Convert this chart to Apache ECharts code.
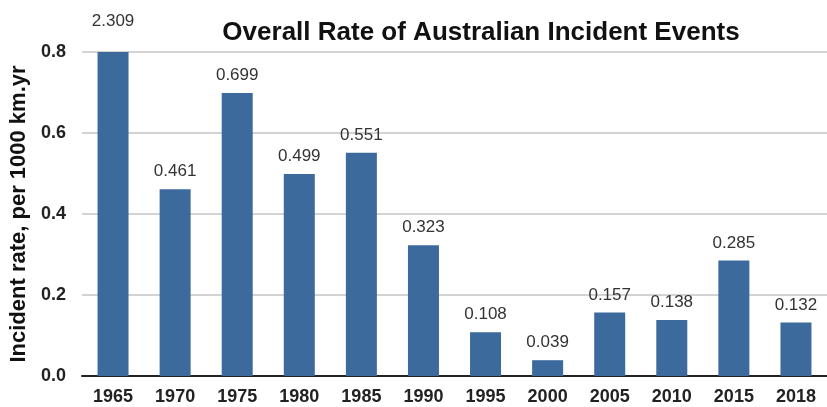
<!DOCTYPE html>
<html>
<head>
<meta charset="utf-8">
<script src="https://cdn.jsdelivr.net/npm/echarts@6/dist/echarts.min.js"></script>
<style>
  html, body { margin: 0; padding: 0; background: #fff; }
  #chart { width: 827px; height: 407px; }
</style>
</head>
<body>
<div id="chart"></div>
<script>
// Incident years and rates (per 1000 km.yr)
const years = ['1965', '1970', '1975', '1980', '1985', '1990', '1995', '2000', '2005', '2010', '2015', '2018'];
const rates = [2.309, 0.461, 0.699, 0.499, 0.551, 0.323, 0.108, 0.039, 0.157, 0.138, 0.285, 0.132];
const yTicks = [0, 0.2, 0.4, 0.6, 0.8];

const chart = echarts.init(document.getElementById('chart'), null, { renderer: 'canvas' });

const fontFamily = 'Liberation Sans, Arial, sans-serif';

chart.setOption({
  animation: false,
  backgroundColor: '#fff',
  title: {
    text: 'Overall Rate of Australian Incident Events',
    left: 476,
    top: 15,
    textAlign: 'center',
    textStyle: { fontFamily, fontSize: 26, fontWeight: 'bold', color: '#111' }
  },
  grid: { left: 81, top: 52, width: 756, height: 324, containLabel: false },
  xAxis: {
    type: 'category',
    data: years,
    axisLine: { lineStyle: { color: '#222', width: 2 } },
    axisTick: { show: false },
    axisLabel: { fontFamily, fontSize: 18, fontWeight: 'bold', color: '#222', margin: 12 }
  },
  yAxis: {
    type: 'value',
    min: yTicks[0],
    max: yTicks[yTicks.length - 1],
    interval: 0.2,
    name: 'Incident rate, per 1000 km.yr',
    nameLocation: 'middle',
    nameGap: 52,
    nameTextStyle: { fontFamily, fontSize: 22, fontWeight: 'bold', color: '#111' },
    axisLine: { show: false },
    axisTick: { show: false },
    axisLabel: {
      fontFamily, fontSize: 18, fontWeight: 'bold', color: '#222', margin: 16,
      formatter: v => v.toFixed(1)
    },
    splitLine: { lineStyle: { color: '#c4c4c4', width: 1.5 } }
  },
  series: [{
    type: 'bar',
    data: rates.map((v, i) => i === 0
      ? { value: v, label: { offset: [0, -13] } }
      : v),
    barWidth: 31,
    clip: true,
    itemStyle: { color: '#3c6a9c' },
    label: {
      show: true,
      position: 'top',
      distance: 9,
      fontFamily,
      fontSize: 17,
      color: '#333',
      formatter: p => p.value.toFixed(3)
    }
  }]
});
</script>
</body>
</html>
